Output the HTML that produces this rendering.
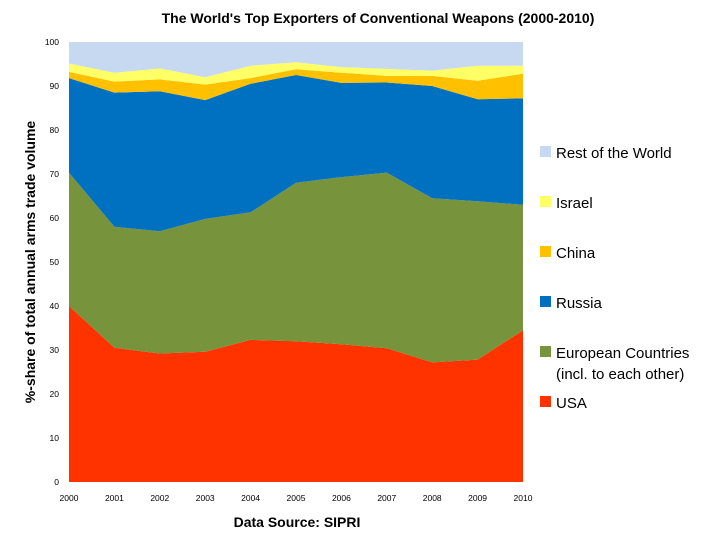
<!DOCTYPE html>
<html><head><meta charset="utf-8"><style>
body{margin:0;background:#fff;font-family:"Liberation Sans",Arial,sans-serif}
svg text{font-family:"Liberation Sans",Arial,sans-serif}
</style></head><body>
<svg id="c" width="728" height="546" viewBox="0 0 728 546">
<text x="378" y="23" text-anchor="middle" font-size="14" font-weight="bold" fill="#000">The World's Top Exporters of Conventional Weapons (2000-2010)</text>
<g id="areas"></g>
<g id="axes"></g>
<text x="297" y="527" text-anchor="middle" font-size="14" font-weight="bold">Data Source: SIPRI</text>
<text transform="translate(35,262) rotate(-90)" text-anchor="middle" font-size="14" font-weight="bold">%-share of total annual arms trade volume</text>
<g id="legend"></g>
</svg>
<script>
const years=[2000,2001,2002,2003,2004,2005,2006,2007,2008,2009,2010];
const usa=[40,30.5,29.2,29.6,32.3,32,31.3,30.4,27.2,27.8,34.5];
const europe=[30.3,27.5,27.8,30.2,29,36,38,39.9,37.3,36,28.5];
const russia=[21.5,30.5,31.8,27,29.2,24.5,21.4,20.5,25.5,23.2,24.2];
const china=[1.4,2.5,2.7,3.5,1.3,1.3,2.3,1.5,2.3,4.2,5.6];
const israel=[1.9,2,2.5,1.7,2.8,1.6,1.3,1.6,1.2,3.4,1.8];
const rest=years.map((y,i)=>100-usa[i]-europe[i]-russia[i]-china[i]-israel[i]);
const yTicks=[0,10,20,30,40,50,60,70,80,90,100];
const seriesNames=["USA","European Countries","Russia","China","Israel","Rest of the World"];
const ns="http://www.w3.org/2000/svg";
const X0=69,X1=523,Y0=482,Y1=42;
const xs=i=>X0+(X1-X0)*(years[i]-years[0])/(years[years.length-1]-years[0]);
const ys=v=>Y0-(Y0-Y1)*v/100;
const series=[usa,europe,russia,china,israel,rest];
const colors=["#ff3300","#77933c","#0070c0","#ffc000","#ffff66","#c6d9f1"];
const keys=["usa","europe","russia","china","israel","rest"];
const areas=document.getElementById('areas');
let base=years.map(()=>0);
series.forEach((s,k)=>{
  const top=base.map((b,i)=>b+s[i]);
  let d="";
  years.forEach((y,i)=>{d+=(i?"L":"M")+xs(i)+","+ys(top[i]);});
  for(let i=years.length-1;i>=0;i--)d+="L"+xs(i)+","+ys(base[i]);
  const p=document.createElementNS(ns,"path");
  p.setAttribute("d",d+"Z");p.setAttribute("fill",colors[k]);
  
  
  areas.appendChild(p);
  base=top;
});
const ax=document.getElementById('axes');
function t(x,y,s,a){const e=document.createElementNS(ns,"text");e.setAttribute("x",x);e.setAttribute("y",y);e.setAttribute("font-size","8.5");e.setAttribute("text-anchor",a);e.textContent=s;ax.appendChild(e);return e;}
yTicks.forEach(v=>{const e=t(59,ys(v)+3,v,"end");

});
years.forEach((y,i)=>{const e=t(xs(i),501,y,"middle");

});
const lg=document.getElementById('legend');
const ly=[402,352,302,252,202,152];
series.forEach((s,k)=>{
  const r=document.createElementNS(ns,"rect");
  r.setAttribute("x",540);r.setAttribute("y",ly[k]-6);r.setAttribute("width",11);r.setAttribute("height",11);r.setAttribute("fill",colors[k]);
  
  
  lg.appendChild(r);
  const tx=document.createElementNS(ns,"text");
  tx.setAttribute("x",556);tx.setAttribute("y",ly[k]+6);tx.setAttribute("font-size","15");
  tx.textContent=seriesNames[k];
  
  
  lg.appendChild(tx);
});
const ex=document.createElementNS(ns,"text");
ex.setAttribute("x",556);ex.setAttribute("y",379);ex.setAttribute("font-size","15");ex.textContent="(incl. to each other)";


lg.appendChild(ex);
</script>
</body></html>
